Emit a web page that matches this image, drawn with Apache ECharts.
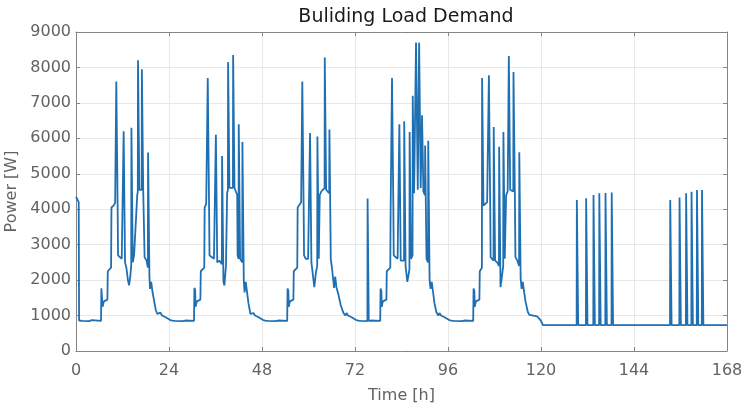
<!DOCTYPE html>
<html>
<head>
<meta charset="utf-8">
<script src="https://cdn.jsdelivr.net/npm/echarts@6/dist/echarts.min.js"></script>
<style>
  html, body { margin: 0; padding: 0; background: #ffffff; }
  #chart { width: 741px; height: 411px; }
</style>
</head>
<body>
<div id="chart"></div>
<script>
// Building load over one week, [hour, watts] samples per day.
const mon = [
  [0,4350],[0.35,4280],[0.7,4200],[0.8,860],[1.6,850],[3.4,845],[3.7,880],[4.1,870],[4.4,845],
  [6.45,850],[6.55,1770],[6.75,1720],[6.85,1250],[7.2,1400],[7.7,1350],[8.1,1450],[8.2,2250],
  [8.7,2300],[9.05,2350],[9.15,4050],[9.7,4100],[10.1,4180],[10.35,4150],[10.4,7600],[10.7,7600],
  [10.75,4000],[10.85,2700],[11.3,2650],[11.8,2600],[12.25,2600],[12.3,6200],[12.6,6200],[12.65,2500],
  [13.0,2350],[13.4,2000],[13.7,1850],[14.0,2100],[14.25,2400],[14.3,6300],[14.6,6300],[14.65,2500],
  [15.0,2700],[15.5,2650],[15.8,4400],[15.95,4500],[16.0,8200],[16.3,8200],[16.35,4550],[16.7,4500],
  [16.95,4550],[17.0,7950],[17.3,7950],[17.35,4500],[17.6,4450],[17.7,2650],[18.2,2550],[18.55,2350],
  [18.6,5600],[18.9,5600],[18.95,2100],[19.1,1750],[19.4,1950],[19.7,1700],[20.1,1450],[20.6,1150],
  [21.0,1050],[21.5,1000],[21.8,1080],[22.2,1000],[22.6,1030],[23.0,960],[23.5,950]
];
const tue = [
  [24.2,880],[24.8,860],[25.5,850],[27.5,845],[27.8,880],[28.2,860],[28.5,845],[30.45,850],
  [30.55,1780],[30.75,1720],[30.85,1250],[31.2,1400],[31.7,1350],[32.1,1450],[32.2,2250],[32.7,2300],
  [33.1,2350],[33.2,4050],[33.6,4150],[33.95,4200],[34.0,7700],[34.3,7700],[34.35,4000],[34.45,2700],
  [35.0,2650],[35.6,2600],[36.05,2600],[36.1,6100],[36.4,6100],[36.45,2500],[37.0,2550],[37.65,2450],
  [37.7,5500],[38.0,5500],[38.05,1950],[38.3,1850],[38.7,2400],[39.0,4450],[39.2,4550],[39.25,8150],
  [39.55,8150],[39.6,4600],[40.0,4650],[40.5,4600],[40.55,8350],[40.85,8350],[40.9,4600],[41.3,4550],
  [41.6,4400],[41.7,2700],[41.95,2600],[42.0,6400],[42.3,6400],[42.35,2600],[42.9,2500],[42.95,5900],
  [43.25,5900],[43.3,2000],[43.5,1650],[43.8,1950],[44.1,1700],[44.5,1350],[45.0,1050],[45.5,1000],
  [45.8,1070],[46.2,1000],[46.6,1030],[47.0,960],[47.5,950]
];
const wed = [
  [48.2,880],[48.8,860],[49.5,850],[51.5,845],[51.8,880],[52.2,860],[52.5,845],[54.5,850],
  [54.6,1760],[54.8,1700],[54.9,1250],[55.2,1400],[55.7,1350],[56.1,1450],[56.2,2250],[56.7,2300],
  [57.1,2350],[57.2,4050],[57.7,4100],[58.1,4200],[58.35,4150],[58.4,7600],[58.7,7600],[58.75,4000],
  [58.85,2700],[59.3,2600],[59.9,2600],[60.35,2550],[60.4,6150],[60.7,6150],[60.75,2500],[61.1,2450],
  [61.5,1800],[61.9,2200],[62.25,2400],[62.3,6050],[62.6,6050],[62.65,2600],[62.9,4400],[63.3,4500],
  [63.8,4550],[64.15,4600],[64.2,8280],[64.5,8280],[64.55,4550],[65.0,4500],[65.35,4450],[65.4,6250],
  [65.7,6250],[65.75,2600],[66.1,2300],[66.6,1780],[66.9,2100],[67.2,1800],[67.7,1600],[68.3,1300],
  [69.0,1080],[69.5,1000],[69.8,1070],[70.2,1000],[70.6,1030],[71.0,960],[71.5,950]
];
const thu = [
  [72.2,880],[72.8,860],[73.5,850],[75.2,845],[75.25,4300],[75.5,4300],[75.55,850],[75.8,880],
  [76.2,860],[76.5,845],[78.5,850],[78.6,1760],[78.8,1700],[78.9,1250],[79.2,1400],[79.7,1350],
  [80.1,1450],[80.2,2250],[80.7,2300],[81.1,2350],[81.2,4050],[81.5,4100],[81.55,7700],[81.85,7700],
  [81.9,4000],[82.0,2700],[82.5,2650],[83.0,2600],[83.4,2600],[83.45,6400],[83.75,6400],[83.8,2550],
  [84.2,2600],[84.65,2550],[84.7,6480],[85.0,6480],[85.05,2400],[85.5,1950],[85.8,1900],[86.05,2300],
  [86.1,6180],[86.4,6180],[86.45,2600],[86.85,2700],[86.9,7200],[87.2,7200],[87.25,4450],[87.7,4500],
  [87.75,8700],[88.15,8700],[88.2,4550],[88.5,4550],[88.55,8700],[88.9,8700],[88.95,4600],[89.25,4550],
  [89.3,6650],[89.6,6650],[89.65,4500],[90.05,4400],[90.1,5800],[90.4,5800],[90.45,2600],[90.85,2500],
  [90.9,5930],[91.2,5930],[91.25,2000],[91.5,1750],[91.8,1950],[92.1,1700],[92.5,1350],[93.0,1100],
  [93.5,1000],[93.8,1070],[94.2,1000],[94.6,1030],[95.0,960],[95.5,950]
];
const fri = [
  [96.2,880],[96.8,860],[97.5,850],[99.5,845],[99.8,880],[100.2,860],[100.5,845],[102.5,850],
  [102.6,1760],[102.8,1700],[102.9,1250],[103.2,1400],[103.7,1350],[104.1,1450],[104.2,2250],[104.5,2300],
  [104.75,2350],[104.8,7700],[105.1,7700],[105.15,4100],[105.6,4150],[106.1,4200],[106.5,4150],[106.55,7780],
  [106.85,7780],[106.9,4000],[107.0,2650],[107.4,2600],[107.75,2550],[107.8,6320],[108.1,6320],[108.15,2550],
  [108.7,2500],[109.15,2400],[109.2,5760],[109.5,5760],[109.55,1800],[109.8,2000],[110.25,2400],[110.3,6180],
  [110.6,6180],[110.65,2600],[111.0,4400],[111.4,4500],[111.65,4550],[111.7,8320],[112.0,8320],[112.05,4550],
  [112.5,4550],[112.85,4500],[112.9,7870],[113.2,7870],[113.25,4450],[113.4,2650],[113.9,2550],[114.35,2400],
  [114.4,5610],[114.7,5610],[114.75,2050],[115.0,1750],[115.3,1950],[115.6,1700],[116.0,1400],[116.6,1100],
  [117.0,1020],[117.5,1070],[118.0,1000],[118.5,1030],[119.0,980],[119.5,990],[120.0,850],[120.5,730]
];
const weekend = [
  [121,730],[129.2,730],[129.25,4260],[129.55,4260],[129.6,730],[131.6,730],[131.65,4310],[131.95,4310],
  [132.0,730],[133.5,730],[133.55,4400],[133.85,4400],[133.9,730],[135.0,730],[135.05,4450],[135.35,4450],
  [135.4,730],[136.6,730],[136.65,4460],[136.95,4460],[137.0,730],[138.2,730],[138.25,4470],[138.55,4470],
  [138.6,730],[153.3,730],[153.35,4260],[153.65,4260],[153.7,730],[155.7,730],[155.75,4330],[156.05,4330],
  [156.1,730],[157.4,730],[157.45,4450],[157.75,4450],[157.8,730],[158.8,730],[158.85,4490],[159.15,4490],
  [159.2,730],[160.2,730],[160.25,4540],[160.55,4540],[160.6,730],[161.5,730],[161.55,4540],[161.85,4540],
  [161.9,730],[168,730]
];

const load = [].concat(mon, tue, wed, thu, fri, weekend);

const axisGray = '#858585';
const labelGray = '#636363';
const fontFamily = '"DejaVu Sans", sans-serif';

const chart = echarts.init(document.getElementById('chart'), null, { renderer: 'canvas' });

function frameAxis(pos, min, max, interval) {
  return {
    type: 'value', position: pos, min: min, max: max, interval: interval,
    axisLine: { show: true, onZero: false, lineStyle: { color: axisGray, width: 1 } },
    axisTick: { show: true, inside: true, length: 4, lineStyle: { color: axisGray } },
    axisLabel: { show: false },
    splitLine: { show: false }
  };
}

chart.setOption({
  animation: false,
  backgroundColor: '#ffffff',
  title: {
    text: 'Buliding Load Demand',
    left: 401, top: 3, textAlign: 'center',
    textStyle: { fontFamily: fontFamily, fontSize: 19, fontWeight: 'normal', color: '#1a1a1a' }
  },
  grid: { left: 76, right: 14, top: 32, bottom: 60, containLabel: false, outerBoundsMode: 'none' },
  xAxis: [
    {
      type: 'value', position: 'bottom', min: 0, max: 168, interval: 24,
      name: 'Time [h]', nameLocation: 'middle', nameGap: 37,
      nameTextStyle: { fontFamily: fontFamily, fontSize: 16, color: labelGray },
      axisLine: { show: true, onZero: false, lineStyle: { color: axisGray, width: 1 } },
      axisTick: { show: true, inside: true, length: 4, lineStyle: { color: axisGray } },
      axisLabel: { fontFamily: fontFamily, fontSize: 16, color: labelGray, margin: 12,
                   formatter: function (v) { return String(v); } },
      splitLine: { show: true, lineStyle: { color: '#e8e8e8', width: 1 } }
    },
    frameAxis('top', 0, 168, 24)
  ],
  yAxis: [
    {
      type: 'value', position: 'left', min: 0, max: 9000, interval: 1000,
      name: 'Power [W]', nameLocation: 'middle', nameGap: 52,
      nameTextStyle: { fontFamily: fontFamily, fontSize: 16, color: labelGray },
      axisLine: { show: true, onZero: false, lineStyle: { color: axisGray, width: 1 } },
      axisTick: { show: true, inside: true, length: 4, lineStyle: { color: axisGray } },
      axisLabel: { fontFamily: fontFamily, fontSize: 16, color: labelGray, margin: 5,
                   formatter: function (v) { return String(v); } },
      splitLine: { show: true, lineStyle: { color: '#e8e8e8', width: 1 } }
    },
    frameAxis('right', 0, 9000, 1000)
  ],
  series: [{
    type: 'line',
    xAxisIndex: 0, yAxisIndex: 0,
    data: load,
    showSymbol: false,
    symbol: 'none',
    lineStyle: { color: '#1f6fb3', width: 1.8 },
    silent: true
  }]
});
</script>
</body>
</html>
